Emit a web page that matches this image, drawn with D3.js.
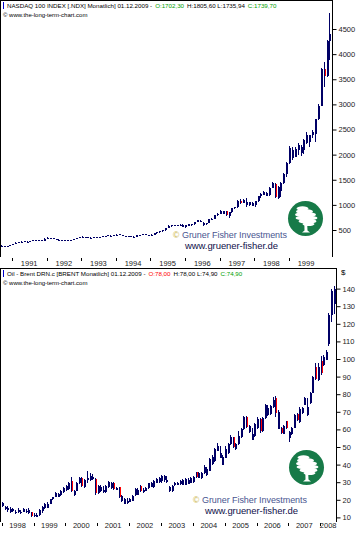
<!DOCTYPE html>
<html><head><meta charset="utf-8">
<script src="https://cdn.jsdelivr.net/npm/d3@7"></script>
<style>
body{margin:0;background:#fff;}
svg{display:block;font-family:"Liberation Sans",Arial,sans-serif;}
</style>
</head><body>
<svg id="c" width="358" height="538"></svg>
<script>
// ---------------- DATA ----------------
// NASDAQ 100 monthly bars [open, high, low, close], first month:
const ndxStart = "1990-08";
const ndxBars = [
[190,212,184,205],[172,196,168,190],[164,180,160,174],[170,188,168,186],[186,205,184,200],
[200,226,196,224],[224,252,222,250],[250,268,244,264],[258,274,254,266],[262,278,256,274],[256,276,252,270],
[262,282,258,280],[280,294,272,292],[284,298,280,294],[288,300,282,296],[282,302,278,296],[288,334,282,330],
[330,352,326,346],[336,350,330,344],[316,342,312,334],[302,322,296,316],[304,312,298,308],[288,308,284,302],
[290,304,286,302],[290,304,286,300],[292,304,288,302],[300,322,296,320],[320,348,318,346],[346,362,340,360],
[360,372,354,366],[344,368,336,362],[346,356,340,352],[334,354,328,348],[336,362,334,360],[350,366,348,362],
[350,362,346,358],[354,378,352,376],[376,386,370,382],[382,396,378,392],[376,394,372,390],[380,402,378,398],
[398,414,394,410],[400,416,396,412],[376,408,372,404],[370,386,362,382],[374,384,366,380],[358,382,354,378],
[360,374,356,370],[370,398,368,396],[392,406,388,402],[400,420,394,416],[396,420,392,414],[398,410,390,404],
[404,414,396,410],[410,438,408,434],[434,458,430,456],[456,484,450,480],[480,500,470,494],[494,548,490,544],
[544,590,540,582],[570,596,566,590],[586,608,578,602],[580,604,570,598],[590,612,584,606],[566,610,560,596],
[560,596,548,590],[586,628,580,620],[596,626,588,618],[610,664,604,660],[660,696,650,690],[660,694,650,686],
[600,668,570,640],[610,648,600,644],[640,714,636,710],[706,734,700,724],[720,796,714,790],[790,836,780,821],
[821,894,816,880],[816,886,812,870],[870,880,770,790],[780,856,740,850],[850,936,846,930],[930,960,910,950],
[950,1090,940,1080],[1080,1110,1020,1040],[1040,1120,1030,1100],[1000,1140,960,1060],[1000,1060,980,1050],[980,1060,970,1040],
[990,1080,950,1070],[1070,1180,1060,1170],[1170,1230,1140,1220],[1200,1270,1190,1250],[1180,1260,1170,1240],[1200,1350,1180,1340],
[1340,1460,1330,1440],[1420,1430,1140,1150],[1140,1380,1120,1350],[1280,1460,1150,1440],[1440,1640,1420,1620],[1620,1850,1560,1836],
[1836,2180,1820,2130],[1940,2150,1900,2100],[1960,2150,1950,2120],[2100,2230,2000,2200],[2040,2200,1980,2160],[2090,2310,2020,2300],
[2240,2450,2220,2400],[2260,2400,2160,2390],[2390,2500,2340,2460],[2410,2710,2260,2700],[2700,3000,2690,2970],[2970,3720,2960,3708],
[3708,3840,3340,3570],[3570,4290,3550,4270],[4270,4820,3890,4400]
];
const ndxTicks = [500,1000,1500,2000,2500,3000,3500,4000,4500];
const ndxYears = [1991,1992,1993,1994,1995,1996,1997,1998,1999];

// Brent oil monthly bars [open, high, low, close], first month:
const brentStart = "1997-12";
const brentBars = [
[19.4,21.6,18.8,20.8],
[16.2,18.8,15.9,18.0],[14.6,16.5,14.2,15.9],[14.2,16.4,13.2,15.4],[13.0,15.9,12.5,14.8],[13.6,15.1,13.0,14.6],[12.4,14.4,11.8,13.2],
[12.8,15.2,12.5,14.2],[12.6,14.2,12.2,13.2],[13.2,15.4,13.0,14.8],[12.8,14.9,12.4,13.6],[12.6,15.2,12.2,14.4],[12.8,13.2,10.0,10.6],
[10.6,12.4,10.2,11.6],[10.4,12.6,10.2,11.2],[11.2,14.8,10.8,14.4],[13.6,16.2,12.6,15.8],[15.2,18.2,14.8,17.6],[15.6,18.6,15.2,17.8],
[17.8,20.6,17.4,20.2],[20.2,21.8,19.8,21.4],[21.6,24.2,21.4,23.8],[21.8,24.0,21.4,23.4],[22.8,25.6,22.4,25.2],[24.4,27.2,24.0,26.6],
[25.6,28.2,25.2,27.8],[26.2,30.0,25.8,29.4],[30.4,33.0,24.5,25.2],[22.8,25.6,22.4,25.0],[25.0,30.2,24.8,29.6],[29.6,33.0,29.2,32.4],
[32.4,33.0,27.0,27.8],[27.2,31.6,26.6,31.2],[31.0,36.2,29.5,32.4],[31.2,35.0,30.8,33.6],[31.6,34.6,31.0,33.2],[32.0,32.6,22.6,23.6],
[23.6,28.4,23.2,27.8],[25.2,28.2,24.6,27.4],[24.2,27.6,23.6,25.4],[24.6,28.6,24.0,28.0],[27.2,30.8,26.8,30.2],[26.8,30.2,26.4,29.6],
[29.6,30.0,25.6,26.0],[25.6,27.2,25.4,26.8],[27.0,27.4,21.0,21.8],[19.2,22.8,18.8,22.0],[17.8,21.0,17.4,20.4],[18.0,21.0,17.6,19.6],
[19.0,21.2,18.6,20.6],[19.6,22.6,19.2,22.0],[22.6,26.6,22.4,26.2],[23.0,26.8,22.7,25.6],[28.0,28.4,24.5,25.0],[24.2,26.6,23.8,25.8],
[25.2,27.4,24.8,26.8],[26.6,29.8,26.2,29.4],[27.4,30.2,27.0,29.6],[27.0,31.0,26.7,30.4],[29.6,32.6,29.4,32.0],[30.0,33.0,29.5,32.6],
[30.4,34.0,29.8,33.4],[31.0,34.2,30.2,33.6],[30.0,33.6,29.5,31.2],[25.0,28.0,24.5,27.4],[25.2,28.2,24.6,27.6],[28.2,30.0,28.0,29.6],
[28.4,30.2,28.2,29.8],[29.0,31.0,28.6,30.4],[28.4,32.0,28.2,31.4],[28.6,32.2,28.4,31.6],[29.0,32.4,28.8,31.4],[29.6,33.0,29.4,32.6],
[30.0,33.4,29.6,32.8],[35.6,36.0,32.4,33.0],[32.6,36.0,32.4,35.4],[32.4,35.8,32.0,35.2],[35.0,39.6,34.6,38.6],[34.0,38.4,33.6,37.6],
[36.6,43.6,36.2,43.0],[40.6,45.4,40.0,44.2],[42.0,49.6,41.6,49.0],[48.0,52.0,47.6,50.8],[44.0,50.6,43.6,46.4],[40.0,45.6,39.6,44.2],
[44.0,50.8,43.6,48.6],[46.4,52.0,45.8,51.6],[51.8,57.0,51.4,55.6],[55.4,55.6,49.6,50.2],[48.6,52.4,48.2,51.8],[51.8,59.0,51.4,56.2],
[55.6,61.0,55.2,60.4],[60.4,67.6,59.6,66.8],[67.0,67.6,60.8,61.6],[58.6,62.6,58.2,61.8],[54.2,60.8,53.8,57.4],[56.0,63.6,55.6,62.8],
[60.8,66.8,60.4,65.8],[66.0,66.6,58.0,59.2],[59.0,67.0,58.6,66.2],[66.4,74.2,66.0,73.6],[68.0,74.0,67.6,72.4],[68.8,73.8,68.4,73.4],
[72.8,78.6,72.4,76.6],[78.0,79.0,67.0,69.6],[60.2,71.0,60.0,70.0],[60.8,61.2,57.2,57.8],[57.6,62.6,57.2,62.0],[64.8,65.0,60.0,60.6],
[55.2,59.2,53.0,58.6],[57.2,61.4,56.8,60.8],[61.0,69.0,60.6,68.4],[68.8,69.2,64.8,65.4],[64.0,72.8,63.6,71.8],[69.2,72.8,68.8,72.4],
[74.0,78.2,73.6,77.6],[68.2,78.0,67.8,73.0],[75.0,81.0,74.6,80.4],[80.8,90.4,80.4,89.6],[95.4,98.0,88.0,88.8],[88.0,98.0,87.4,95.6],
[99.0,101.6,91.0,92.0],[96.8,102.0,96.0,101.2],[99.6,105.0,99.2,104.2],[108.4,126.0,107.6,124.8],[124.8,140.0,121.0,138.6],[131.0,141.6,125.4,139.8]
];
const brentTicks = [10,20,30,40,50,60,70,80,90,100,110,120,130,140];
const brentYears = [1998,1999,2000,2001,2002,2003,2004,2005,2006,2007,2008];

// ---------------- DRAWING ----------------
const NAVY = "#000066", RED = "#ff0000", GREEN = "#00a000";
const parse = d3.timeParse("%Y-%m");
const svg = d3.select("#c");

function drawPanel(o) {
  const g = svg.append("g");
  const clipId = o.id + "-clip";
  svg.append("clipPath").attr("id", clipId).append("rect")
    .attr("x", 1).attr("y", o.top).attr("width", o.right - 1).attr("height", o.bottom - o.top);

  // frame: left, top, right axis line
  g.append("rect").attr("x", 0).attr("y", o.top).attr("width", 1).attr("height", o.bottom - o.top).attr("fill", "#000");
  g.append("rect").attr("x", 0).attr("y", o.top).attr("width", o.right + 1).attr("height", 1).attr("fill", "#000");
  g.append("rect").attr("x", o.right).attr("y", o.top).attr("width", 1).attr("height", o.bottom - o.top).attr("fill", "#000");

  // watermark
  const wm = g.append("g");
  wm.append("text").attr("x", o.wmX).attr("y", o.wmY).attr("font-size", 8.5).attr("fill", "#c8b040").text("©");
  wm.append("text").attr("x", o.wmX + 9).attr("y", o.wmY).attr("font-size", 9).attr("fill", "#4a5590")
    .attr("textLength", 105).text("Gruner Fisher Investments");
  wm.append("text").attr("x", o.wmX + 12).attr("y", o.wmY + 11).attr("font-size", 9.5).attr("fill", "#10104a")
    .attr("textLength", 93).text("www.gruener-fisher.de");

  // logo
  const lg = g.append("g").attr("transform", `translate(${o.logoX},${o.logoY})`);
  lg.append("circle").attr("r", 17.5).attr("fill", "#177a48");
  const tree = lg.append("g").attr("fill", "#fff");
  [[-3,-10,6,2.2],[-1,-7,8.5,2.4],[0,-3.8,10.5,2.6],[1,-0.5,11,2.6],[2,2.8,9,2.4],[3,5.6,6,2]].forEach(e =>
    tree.append("ellipse").attr("cx", e[0]).attr("cy", e[1]).attr("rx", e[2]).attr("ry", e[3]));
  tree.append("path").attr("d", "M-1.2,3 L1.6,3 L2,12 L4.5,14 L-3.5,14 L-1,12 Z");

  // candles
  const dates = d3.timeMonth.range(parse(o.start), d3.timeMonth.offset(parse(o.start), o.bars.length));
  const data = o.bars.map((b, i) => ({d: dates[i], o: b[0], h: b[1], l: b[2], c: b[3]}));
  const cx = d => Math.round(o.x(d3.timeDay.offset(d.d, 14)));
  const cg = g.append("g").attr("clip-path", `url(#${clipId})`).attr("shape-rendering", "crispEdges");
  const sel = cg.selectAll("g").data(data).join("g");
  sel.append("rect")
    .attr("x", d => cx(d) - 1).attr("width", 1)
    .attr("y", d => Math.round(o.y(d.h)))
    .attr("height", d => Math.max(1, Math.round(o.y(d.l)) - Math.round(o.y(d.h))))
    .attr("fill", NAVY);
  sel.append("rect")
    .attr("x", d => d.c < d.o ? cx(d) : cx(d) - 1)
    .attr("width", d => d.c < d.o ? 1 : 2)
    .attr("y", d => Math.round(o.y(Math.max(d.o, d.c))))
    .attr("height", d => Math.max(1, Math.round(o.y(Math.min(d.o, d.c))) - Math.round(o.y(Math.max(d.o, d.c)))))
    .attr("fill", d => d.c < d.o ? RED : NAVY);

  // right value axis
  const ax = g.append("g").attr("transform", `translate(${o.right + 0.5},0)`)
    .call(d3.axisRight(o.y).tickValues(o.ticks).tickSize(4).tickPadding(2).tickFormat(d3.format("d")));
  ax.select(".domain").remove();
  ax.selectAll("text").attr("font-size", 7.5).attr("font-family", '"Liberation Sans",Arial,sans-serif').attr("fill", "#222");
  ax.selectAll("line").attr("stroke", "#000");
  if (o.unit) g.append("text").attr("x", o.right + 5).attr("y", o.top + 7).attr("font-size", 8).text(o.unit);

  // year axis (ticks at year starts, labels mid-year)
  const yg = g.append("g").attr("font-size", 7.5).attr("fill", "#222");
  o.years.forEach((yr, i) => {
    const x0 = o.x(new Date(yr, 0, 1));
    let xm = o.x(new Date(yr, 6, 1));
    if (i === o.years.length - 1 && xm > o.right) xm = (x0 + o.right) / 2;
    if (x0 > 1 && x0 < o.right)
      yg.append("rect").attr("x", Math.round(x0)).attr("y", o.bottom + 1).attr("width", 1).attr("height", 3).attr("fill", "#000");
    yg.append("text").attr("x", xm).attr("y", o.bottom + o.labelDy).attr("text-anchor", "middle").text(yr);
  });

  // header: pieces laid out one after the other
  const hd = g.append("g");
  hd.append("rect").attr("x", 3).attr("y", o.top + 2).attr("width", 1).attr("height", 7).attr("fill", "#0000cc");
  let hx = 7;
  o.header.forEach(p => {
    const t = hd.append("text").attr("x", hx).attr("y", o.top + 8).attr("font-size", o.headSize)
      .attr("fill", p[1]).text(p[0]);
    hx += t.node().getComputedTextLength() + 3;
  });
  hd.append("text").attr("x", 3).attr("y", o.top + 17).attr("font-size", 6).text(o.sub);
}

drawPanel({
  id: "ndx", top: 0, bottom: 257, right: 332,
  x: d3.scaleTime().domain([new Date(1996, 0, 1), new Date(2000, 0, 1)]).range([185, 185 + 4 * 34.6]),
  y: d3.scaleLinear().domain([500, 4500]).range([230, 29]),
  start: ndxStart, bars: ndxBars, ticks: ndxTicks, years: ndxYears, labelDy: 9,
  wmX: 173, wmY: 238, logoX: 305.5, logoY: 218.5, unit: null, headSize: 6.2,
  header: [["NASDAQ 100 INDEX [.NDX] Monatlich] 01.12.2009 -", "#000"], ["O:1702,30", GREEN],
           ["H:1805,60 L:1735,94", "#000"], ["C:1739,70", GREEN]],
  sub: "© www.the-long-term-chart.com"
});

drawPanel({
  id: "brent", top: 268, bottom: 522, right: 336,
  x: d3.scaleTime().domain([new Date(1998, 0, 1), new Date(2008, 0, 1)]).range([1.7, 320.3]),
  y: d3.scaleLinear().domain([10, 140]).range([517.4, 288.6]),
  start: brentStart, bars: brentBars, ticks: brentTicks, years: brentYears, labelDy: 6,
  wmX: 193, wmY: 503, logoX: 306.5, logoY: 467.5, unit: "$", headSize: 6.2,
  header: [["Oil - Brent DRN.c [BRENT Monatlich] 01.12.2009 -", "#000"], ["O:78,00", RED],
           ["H:78,00 L:74,90", "#000"], ["C:74,90", GREEN]],
  sub: "© www.the-long-term-chart.com"
});
</script>
</body></html>
